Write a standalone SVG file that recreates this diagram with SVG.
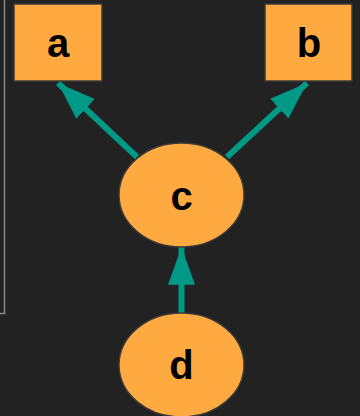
<svg xmlns="http://www.w3.org/2000/svg" width="360" height="416" viewBox="0 0 360 416">
  <defs>
    <style>
      .node { fill: #ffaa40; stroke: #3a3a3a; stroke-width: 1.5; }
      .label { font-family: "Liberation Sans", Arial, sans-serif; font-weight: bold; font-size: 40px; fill: #000; text-anchor: middle; }
      .edge { stroke: #009886; stroke-width: 6; fill: none; }
    </style>
    <marker id="arrow" viewBox="0 0 14 10" refX="14" refY="5" markerWidth="6.3" markerHeight="4.7" markerUnits="strokeWidth" orient="auto">
      <path d="M0,0 L14,5 L0,10 Z" fill="#009886"/>
    </marker>
  </defs>
  <rect width="360" height="416" fill="#222222"/>
  <!-- frame edge on the left -->
  <path d="M4.5,0 V313.5 H0" fill="none" stroke="#8a8a8a" stroke-width="1.5"/>

  <g id="edges">
    <line class="edge" x1="137" y1="157" x2="58" y2="83" marker-end="url(#arrow)"/>
    <line class="edge" x1="227" y1="157" x2="307" y2="83" marker-end="url(#arrow)"/>
    <line class="edge" x1="181.5" y1="313" x2="181.5" y2="247" marker-end="url(#arrow)"/>
  </g>

  <g id="node-a">
    <rect class="node" x="14" y="4" width="88" height="77"/>
    <text class="label" x="58" y="57">a</text>
  </g>
  <g id="node-b">
    <rect class="node" x="265" y="4" width="87" height="77"/>
    <text class="label" x="309" y="57">b</text>
  </g>
  <g id="node-c">
    <ellipse class="node" cx="181.5" cy="195" rx="62.5" ry="52"/>
    <text class="label" x="181.5" y="210">c</text>
  </g>
  <g id="node-d">
    <ellipse class="node" cx="181.5" cy="365" rx="62.5" ry="52"/>
    <text class="label" x="181.5" y="379">d</text>
  </g>
</svg>
